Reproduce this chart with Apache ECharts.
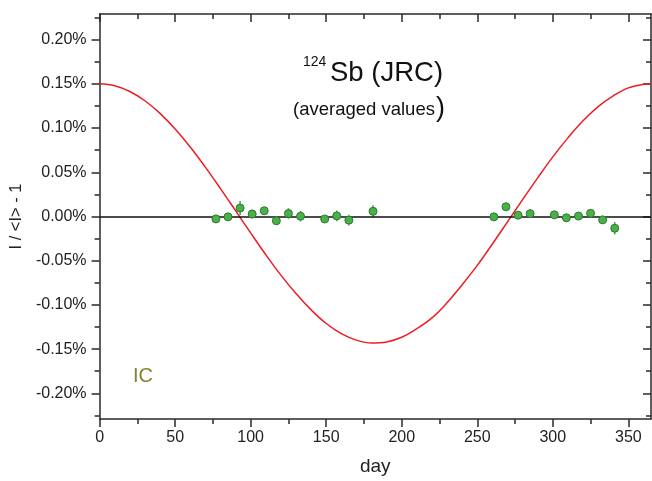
<!DOCTYPE html>
<html><head><meta charset="utf-8">
<script src="https://cdn.jsdelivr.net/npm/echarts@6/dist/echarts.min.js"></script>
<style>html,body{margin:0;padding:0;background:#fff}#c{width:652px;height:481px}</style>
</head><body><div id="c"></div>
<script>
// ---- data (values in percent) ----
const pointDays = [77, 85, 93, 101, 109, 117, 125, 133, 149, 157, 165, 181, 261, 269, 277, 285, 301, 309, 317, 325, 333, 341];
const pointValues = [-0.0027, -0.0004, 0.0095, 0.0028, 0.0065, -0.0048, 0.0034, 0.0003, -0.0028, 0.0007, -0.0041, 0.0058, -0.0004, 0.0110, 0.0015, 0.0032, 0.0019, -0.0015, 0.0005, 0.0036, -0.0038, -0.0133];
const pointErrors = [0.003, 0.003, 0.008, 0.005, 0.003, 0.004, 0.006, 0.006, 0.004, 0.006, 0.006, 0.007, 0.003, 0.003, 0.004, 0.005, 0.004, 0.003, 0.003, 0.003, 0.004, 0.007];
const curveDays = [0, 10, 20, 30, 40, 50, 60, 70, 80, 90, 100, 110, 120, 130, 140, 150, 160, 170, 180, 190, 200, 210, 220, 230, 240, 250, 260, 270, 280, 290, 300, 310, 320, 330, 340, 350, 360, 365];
const curveValues = [0.1500, 0.1478, 0.1414, 0.1309, 0.1166, 0.0990, 0.0786, 0.0558, 0.0316, 0.0066, -0.0186, -0.0432, -0.0663, -0.0872, -0.1056, -0.1210, -0.1324, -0.1398, -0.1431, -0.1419, -0.1366, -0.1269, -0.1147, -0.0975, -0.0771, -0.0553, -0.0311, -0.0061, 0.0191, 0.0437, 0.0674, 0.0889, 0.1082, 0.1243, 0.1365, 0.1455, 0.1495, 0.1500];
const xMajorTicks = [0, 50, 100, 150, 200, 250, 300, 350];
const xMinorTicks = [25, 75, 125, 175, 225, 275, 325];
const yMajorTicks = [-0.20, -0.15, -0.10, -0.05, 0.00, 0.05, 0.10, 0.15, 0.20];
const yMinorTicks = [-0.225, -0.175, -0.125, -0.075, -0.025, 0.025, 0.075, 0.125, 0.175, 0.225];
const xRange = [0, 365];
const yRange = [-0.229, 0.229];

const FONT = 'Liberation Sans, Arial, sans-serif';
const AX = '#2a2a2a';

function xAx(pos, ticks, len, inside, showLine, showLabels, extra) {
  return Object.assign({
    type: 'value', position: pos, min: xRange[0], max: xRange[1],
    splitLine: { show: false },
    axisLine: { show: showLine, onZero: false, lineStyle: { color: AX, width: 1.5 } },
    axisTick: { show: true, customValues: ticks, length: len, inside: inside, lineStyle: { color: AX, width: 1.5 } },
    axisLabel: showLabels ? { show: true, customValues: ticks, fontSize: 16, color: '#222', fontFamily: FONT, margin: 11 } : { show: false }
  }, extra || {});
}
function yAx(pos, ticks, len, inside, showLine, showLabels, extra) {
  return Object.assign({
    type: 'value', position: pos, min: yRange[0], max: yRange[1],
    splitLine: { show: false },
    axisLine: { show: showLine, onZero: false, lineStyle: { color: AX, width: 1.5 } },
    axisTick: { show: true, customValues: ticks, length: len, inside: inside, lineStyle: { color: AX, width: 1.5 } },
    axisLabel: showLabels ? { show: true, customValues: ticks, fontSize: 16, color: '#222', fontFamily: FONT, margin: 13,
      formatter: v => (Math.abs(v) < 1e-9 ? 0 : v).toFixed(2) + '%' } : { show: false }
  }, extra || {});
}

const chart = echarts.init(document.getElementById('c'), null, { renderer: 'canvas' });
const scatterData = pointDays.map((d, i) => [d, pointValues[i], pointErrors[i]]);
const curveData = curveDays.map((d, i) => [d, curveValues[i]]);

chart.setOption({
  animation: false,
  backgroundColor: '#fff',
  grid: { left: 99, right: 1, top: 14, bottom: 61, containLabel: false },
  xAxis: [
    xAx('bottom', xMajorTicks, 8, false, true, true, {
      name: 'day', nameLocation: 'middle', nameGap: 38,
      nameTextStyle: { fontSize: 19, color: '#222', fontFamily: FONT }
    }),
    xAx('bottom', xMinorTicks, 5, false, false, false),
    xAx('top', xMajorTicks, 8, true, true, false),
    xAx('top', xMinorTicks, 5, true, false, false)
  ],
  yAxis: [
    yAx('left', yMajorTicks, 8, false, true, true, {
      name: 'I / <I> - 1', nameLocation: 'middle', nameGap: 62, nameRotate: 90,
      nameTextStyle: { fontSize: 16.5, color: '#222', fontFamily: FONT }
    }),
    yAx('left', yMinorTicks, 5, false, false, false),
    yAx('right', yMajorTicks, 8, true, true, false),
    yAx('right', yMinorTicks, 5, true, false, false)
  ],
  series: [
    {
      type: 'line', xAxisIndex: 0, yAxisIndex: 0, data: curveData,
      smooth: 0.4, showSymbol: false, symbol: 'none', z: 3,
      lineStyle: { color: '#ee1c24', width: 1.5 },
      markLine: {
        silent: true, symbol: ['none', 'none'], label: { show: false },
        lineStyle: { color: '#111', width: 1.5, type: 'solid' },
        data: [{ yAxis: 0 }]
      }
    },
    {
      type: 'custom', xAxisIndex: 0, yAxisIndex: 0, data: scatterData, z: 4,
      renderItem: function (params, api) {
        const x = api.value(0), y = api.value(1), e = api.value(2);
        const p1 = api.coord([x, y - e]);
        const p2 = api.coord([x, y + e]);
        return { type: 'line', shape: { x1: p1[0], y1: p1[1], x2: p2[0], y2: p2[1] },
          style: { stroke: '#4aa54a', lineWidth: 1.5 } };
      }
    },
    {
      type: 'scatter', xAxisIndex: 0, yAxisIndex: 0, data: scatterData, z: 5,
      symbol: 'circle', symbolSize: 8,
      itemStyle: { color: '#4bb04b', borderColor: '#2b7a2b', borderWidth: 1, opacity: 1 }
    }
  ],
  graphic: [
    { type: 'text', left: 303, top: 55, style: { text: '124', fontSize: 14, fill: '#111', fontFamily: FONT } },
    { type: 'text', left: 330, top: 59, style: { text: 'Sb (JRC)', fontSize: 27.5, fill: '#111', fontFamily: FONT } },
    { type: 'text', left: 293, top: 100, style: { text: '(averaged values', fontSize: 18.5, fill: '#111', fontFamily: FONT } },
    { type: 'text', left: 436, top: 95, style: { text: ')', fontSize: 27, fill: '#111', fontFamily: FONT } },
    { type: 'text', left: 133, top: 366, style: { text: 'IC', fontSize: 20, fill: '#838332', fontFamily: FONT } }
  ]
});
</script></body></html>
